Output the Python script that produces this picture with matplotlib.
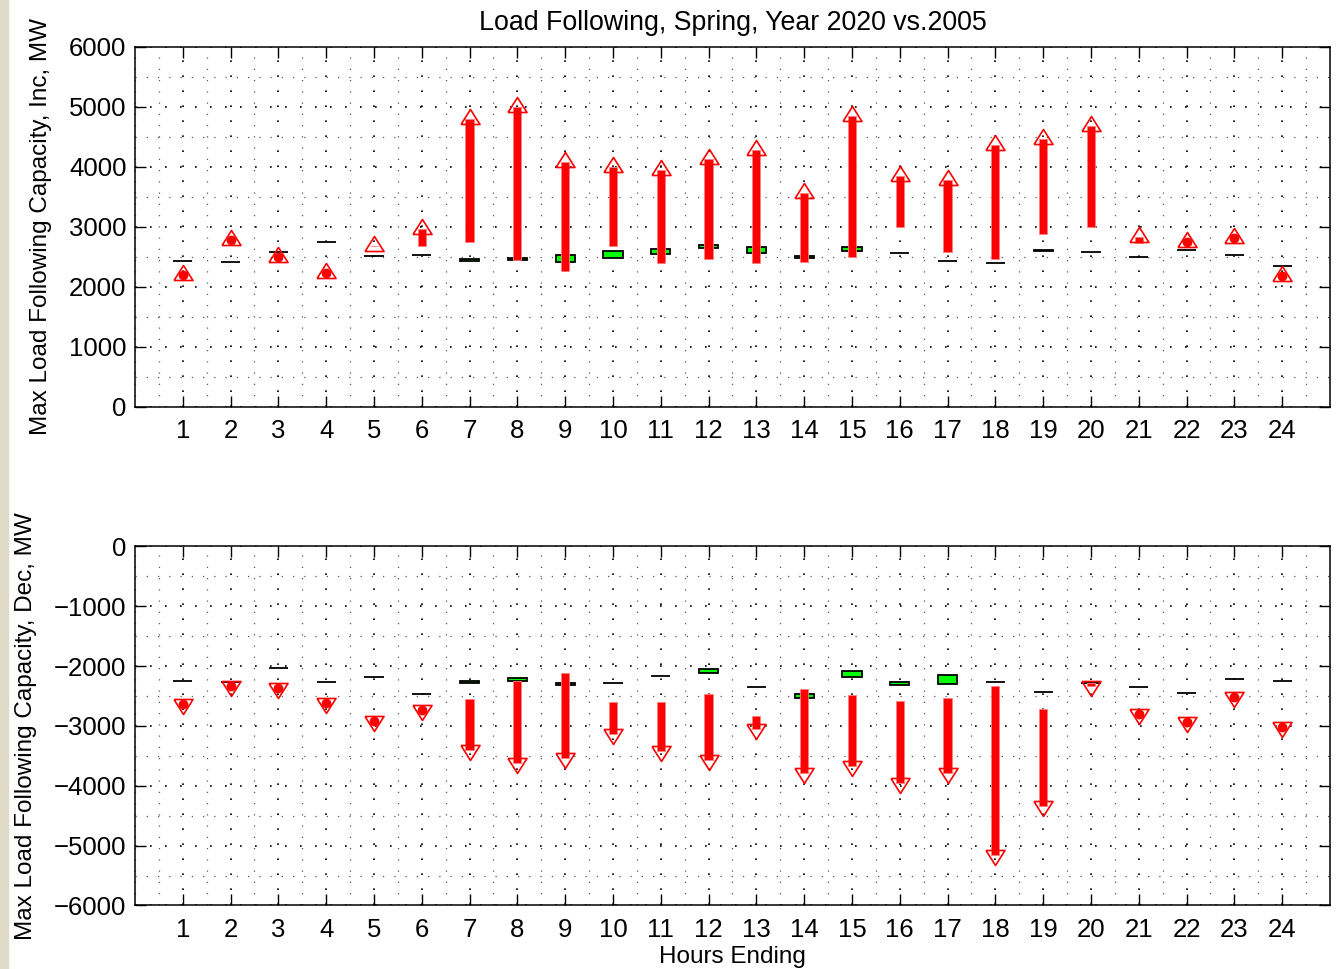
import matplotlib
matplotlib.use("Agg")
import matplotlib.pyplot as plt
import numpy as np
from matplotlib.ticker import MultipleLocator
from matplotlib.patches import Rectangle

plt.rcParams["font.family"] = ["Liberation Sans", "DejaVu Sans"]
plt.rcParams["font.size"] = 17.5

hours = np.arange(1, 25)

# Inc: 2005 range (black line / green box) and 2020 range (red bar)
inc_2005_lo = [2433, 2411, 2589, 2750, 2517, 2539, 2428, 2444, 2422, 2478, 2556, 2644,
               2572, 2478, 2600, 2561, 2433, 2400, 2600, 2578, 2506, 2622, 2533, 2344]
inc_2005_hi = [2433, 2411, 2589, 2750, 2517, 2539, 2472, 2489, 2528, 2594, 2639, 2706,
               2667, 2517, 2661, 2561, 2433, 2400, 2612, 2578, 2506, 2622, 2533, 2344]
inc_2020_lo = [2200, 2778, 2506, 2239, 2689, 2683, 2756, 2450, 2272, 2683, 2406, 2461,
               2394, 2422, 2494, 2994, 2589, 2461, 2883, 3006, 2728, 2756, 2822, 2178]
inc_2020_hi = [2200, 2778, 2506, 2239, 2689, 2967, 4800, 4994, 4078, 3994, 3956, 4133,
               4289, 3567, 4856, 3856, 3789, 4372, 4467, 4689, 2839, 2756, 2822, 2178]
inc_dot_hours = [1, 2, 3, 4, 22, 23, 24]

# Dec
dec_2005_lo = [-2251, -2268, -2039, -2268, -2178, -2469, -2278, -2251, -2323, -2285, -2173, -2111,
               -2352, -2541, -2189, -2312, -2295, -2268, -2429, -2290, -2357, -2458, -2218, -2251]
dec_2005_hi = [-2251, -2268, -2039, -2268, -2178, -2469, -2245, -2195, -2285, -2285, -2173, -2044,
               -2352, -2463, -2089, -2261, -2144, -2268, -2429, -2290, -2357, -2458, -2218, -2251]
dec_2020_lo = [-2631, -2340, -2374, -2620, -2922, -2726, -3408, -3626, -3535, -3128, -3424, -3575,
               -3044, -3787, -3664, -3954, -3787, -5156, -4346, -2335, -2809, -2932, -2520, -3016]
dec_2020_hi = [-2631, -2340, -2374, -2620, -2922, -2726, -2558, -2251, -2111, -2608, -2603, -2474,
               -2831, -2385, -2491, -2587, -2525, -2340, -2714, -2278, -2809, -2932, -2520, -3016]
dec_dot_hours = [1, 2, 3, 4, 5, 6, 21, 22, 23, 24]

# triangles placed with the centroid on the point (like MATLAB)
tri_up = [(-1, -0.527), (1, -0.527), (0, 1.053), (-1, -0.527)]
tri_down = [(x, -y) for x, y in tri_up]


def panel(ax, lo05, hi05, lo20, hi20, dot_hours, richtung):
    lo05, hi05 = np.array(lo05), np.array(hi05)
    lo20, hi20 = np.array(lo20), np.array(hi20)
    ax.bar(hours, hi05 - lo05, bottom=lo05, width=0.4, color="#00ff00",
           edgecolor="black", linewidth=1.3, zorder=3)
    ax.bar(hours, hi20 - lo20, bottom=lo20, width=0.17, color="red",
           edgecolor="#ff8080", linewidth=0.6, zorder=4)
    if richtung == "up":
        ax.plot(hours, hi20, ls="none", marker=tri_up, ms=14.4, mfc="none",
                mec="red", mew=1.2, zorder=5)
        werte = hi20
    else:
        ax.plot(hours, lo20, ls="none", marker=tri_down, ms=14.4, mfc="none",
                mec="red", mew=1.2, zorder=5)
        werte = lo20
    idx = np.array(dot_hours) - 1
    ax.plot(hours[idx], werte[idx], ls="none", marker="o", ms=6, color="red", zorder=6)

    ax.set_xlim(0, 25)
    ax.set_xticks(hours)
    ax.xaxis.set_minor_locator(MultipleLocator(0.5))
    ax.yaxis.set_major_locator(MultipleLocator(1000))
    ax.yaxis.set_minor_locator(MultipleLocator(500))
    ax.grid(which="major", linestyle=(0, (1, 8)), color="black", linewidth=1.2)
    ax.grid(which="minor", linestyle=(0, (1, 8)), color="0.35", linewidth=0.9)
    ax.set_axisbelow(True)
    ax.tick_params(which="major", direction="in", top=True, right=True,
                   length=8, width=1, pad=6, labelsize=18.5)
    ax.tick_params(axis="x", which="major", pad=9)
    ax.tick_params(which="minor", length=0)
    for s in ax.spines.values():
        s.set_linewidth(1.1)


fig = plt.figure(figsize=(13.4, 9.69), dpi=100)
fig.patches.append(Rectangle((0, 0), 8 / 1340, 1, transform=fig.transFigure,
                             color=(0.88, 0.86, 0.79), zorder=0))

ax1 = fig.add_axes([0.1007, 0.580, 0.8918, 0.3715])
panel(ax1, inc_2005_lo, inc_2005_hi, inc_2020_lo, inc_2020_hi, inc_dot_hours, "up")
ax1.set_ylim(0, 6000)
ax1.set_ylabel("Max Load Following Capacity, Inc, MW", labelpad=12)
ax1.set_title("Load Following, Spring, Year 2020 vs.2005", pad=12, fontsize=19.3)

ax2 = fig.add_axes([0.1007, 0.0656, 0.8918, 0.3705])
panel(ax2, dec_2005_lo, dec_2005_hi, dec_2020_lo, dec_2020_hi, dec_dot_hours, "down")
ax2.set_ylim(-6000, 0)
ax2.set_ylabel("Max Load Following Capacity, Dec, MW", labelpad=12)
ax2.set_xlabel("Hours Ending", labelpad=3)

fig.savefig("out.png", dpi=100)
